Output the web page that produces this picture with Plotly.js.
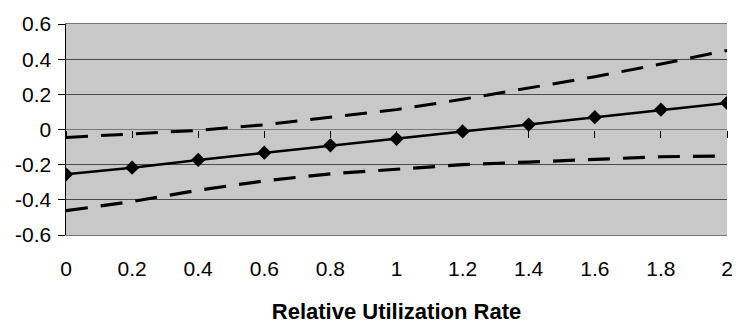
<!DOCTYPE html>
<html>
<head>
<meta charset="utf-8">
<script src="https://cdn.plot.ly/plotly-3.0.1.min.js"></script>
<style>html,body{margin:0;padding:0;background:#fff;}#chart{width:740px;height:324px;}</style>
</head>
<body>
<div id="chart"></div>
<script>
const utilization = [0, 0.2, 0.4, 0.6, 0.8, 1.0, 1.2, 1.4, 1.6, 1.8, 2.0];
const estimate = [-0.255, -0.217, -0.173, -0.132, -0.090, -0.053, -0.011, 0.028, 0.070, 0.113, 0.151];
const upperBound = [-0.045, -0.027, -0.005, 0.027, 0.068, 0.113, 0.172, 0.236, 0.300, 0.372, 0.450];
const lowerBound = [-0.462, -0.410, -0.345, -0.292, -0.252, -0.228, -0.200, -0.185, -0.168, -0.155, -0.150];
const xTicks = [0, 0.2, 0.4, 0.6, 0.8, 1, 1.2, 1.4, 1.6, 1.8, 2];
const xTickText = ["0", "0.2", "0.4", "0.6", "0.8", "1", "1.2", "1.4", "1.6", "1.8", "2"];
const yTicks = [-0.6, -0.4, -0.2, 0, 0.2, 0.4, 0.6];
const yTickText = ["-0.6", "-0.4", "-0.2", "0", "0.2", "0.4", "0.6"];

const font = "Liberation Sans, Arial, sans-serif";

const traces = [
  {x: utilization, y: upperBound, mode: "lines", line: {color: "#000", width: 3, dash: "22px,13px"}, hoverinfo: "skip"},
  {x: utilization, y: lowerBound, mode: "lines", line: {color: "#000", width: 3.2, dash: "22px,13px"}, hoverinfo: "skip"},
  {x: utilization, y: estimate, mode: "lines+markers", line: {color: "#000", width: 2.5},
   marker: {symbol: "diamond", size: 11, color: "#000"}, hoverinfo: "skip"},
  {x: utilization, y: estimate, xaxis: "x2", mode: "lines", opacity: 0, hoverinfo: "skip"}
];

const layout = {
  width: 740, height: 324,
  margin: {l: 66, r: 13, t: 24, b: 89},
  paper_bgcolor: "#fff",
  plot_bgcolor: "#c8c8c8",
  showlegend: false,
  font: {family: font, color: "#000", size: 21},
  xaxis: {
    range: [0, 2], tickvals: xTicks, ticktext: xTickText,
    showgrid: false, zeroline: false, ticks: "",
    showline: true, linecolor: "#777", linewidth: 1, mirror: true,
    ticklabelstandoff: 15,
    tickfont: {family: font, size: 21},
    title: {text: "<b>Relative Utilization Rate</b>", font: {family: font, size: 22}, standoff: 24}
  },
  xaxis2: {
    overlaying: "x", anchor: "free", position: 0.5, range: [0, 2],
    tickvals: xTicks, showticklabels: false, ticks: "outside", ticklen: 7, tickcolor: "#000", tickwidth: 1,
    showgrid: false, zeroline: false, showline: false
  },
  yaxis: {
    range: [-0.6, 0.6], tickvals: yTicks, ticktext: yTickText,
    showgrid: true, gridcolor: "#4a4a4a", gridwidth: 1,
    zeroline: true, zerolinecolor: "#7a7a7a", zerolinewidth: 1.5,
    showline: true, linecolor: "#000", linewidth: 1.5,
    ticks: "outside", ticklen: 7, tickcolor: "#000",
    ticklabelstandoff: 2,
    tickfont: {family: font, size: 21}
  }
};

Plotly.newPlot("chart", traces, layout, {staticPlot: true});
</script>
</body>
</html>
